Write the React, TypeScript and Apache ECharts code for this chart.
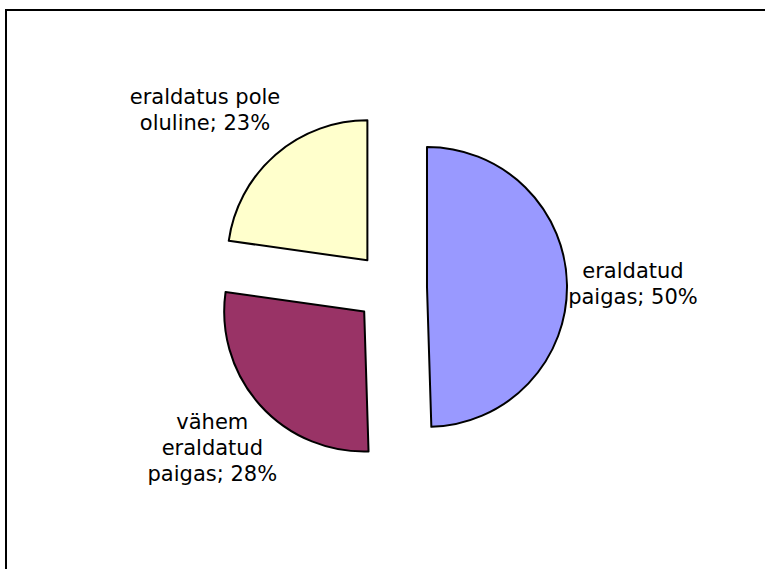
import React, { useEffect, useRef } from 'react';
import * as echarts from 'echarts';

const categories = ['eraldatud paigas', 'vähem eraldatud paigas', 'eraldatus pole oluline'];
const labelText = ['eraldatud\npaigas', 'vähem\neraldatud\npaigas', 'eraldatus pole\noluline'];
const values = [50, 28, 23];
const colors = ['#9999FF', '#993366', '#FFFFCC'];

export default function App() {
  const ref = useRef<HTMLDivElement>(null);
  useEffect(() => {
    const chart = echarts.init(ref.current!, null, { renderer: 'svg' });
    const total = values.reduce((a, b) => a + b, 0);
    const mids: number[] = [];
    let acc = 0;
    values.forEach((v) => {
      mids.push(((acc + v / 2) / total) * 2 * Math.PI);
      acc += v;
    });
    const CX = 391, CY = 287.5, R = 140, OFF = 36;
    const labelGap = [66, 64, 74];
    const labelNudge = [[0, 0], [0, 0], [-22, 11]];

    const series = values.map((_, k) => {
      const cx = CX + OFF * Math.sin(mids[k]);
      const cy = CY - OFF * Math.cos(mids[k]);
      return {
        type: 'pie',
        center: [cx, cy],
        radius: R,
        startAngle: 90,
        clockwise: true,
        avoidLabelOverlap: false,
        silent: true,
        emphasis: { disabled: true },
        label: {
          show: true,
          position: 'outside',
          color: '#000',
          fontFamily: 'DejaVu Sans',
          fontSize: 21,
          lineHeight: 26,
          formatter: (p: any) => `${labelText[p.dataIndex]}; ${p.value}%`,
        },
        labelLine: { show: false },
        labelLayout: (p: any) => {
          const i = p.dataIndex;
          const a = mids[i];
          const d = OFF + R + labelGap[i];
          return {
            x: CX + d * Math.sin(a) + labelNudge[i][0],
            y: CY - d * Math.cos(a) + labelNudge[i][1],
            align: 'center',
            verticalAlign: 'middle',
          };
        },
        data: categories.map((name, i) =>
          i === k
            ? {
                name,
                value: values[i],
                itemStyle: { color: colors[i], borderColor: '#000', borderWidth: 2 },
              }
            : {
                name,
                value: values[i],
                itemStyle: { color: 'rgba(0,0,0,0)', borderWidth: 0 },
                label: { show: false },
              }
        ),
      };
    });

    chart.setOption({
      animation: false,
      graphic: [
        {
          type: 'rect',
          shape: { x: 6, y: 10, width: 800, height: 600 },
          style: { fill: 'none', stroke: '#000', lineWidth: 2 },
          silent: true,
          z: -1,
        },
      ],
      series,
    });
    return () => chart.dispose();
  }, []);
  return <div ref={ref} style={{ position: 'absolute', left: 0, top: 0, width: 765, height: 569 }} />;
}
